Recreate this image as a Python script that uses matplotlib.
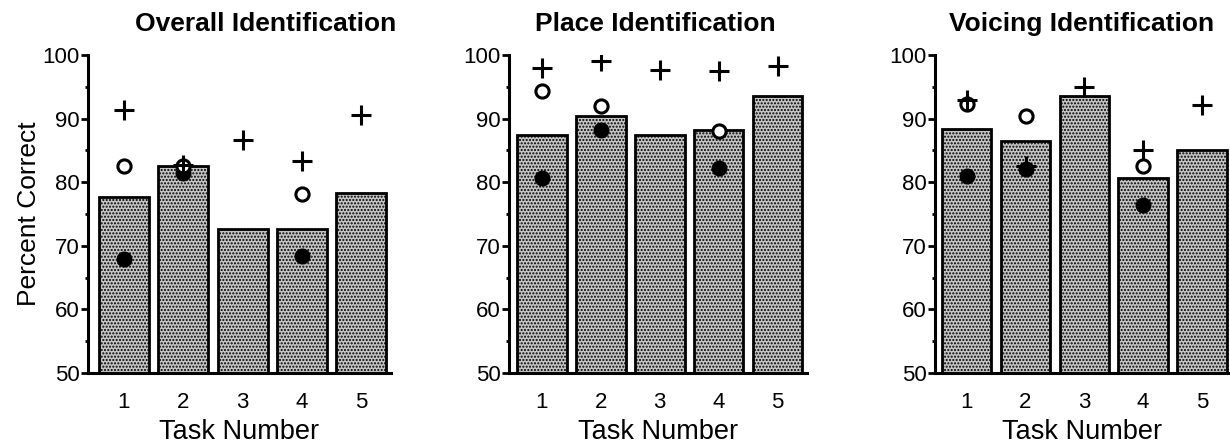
import matplotlib
matplotlib.use("Agg")
import matplotlib.pyplot as plt
from matplotlib.ticker import MultipleLocator

plt.rcParams['font.family'] = ['Liberation Sans', 'DejaVu Sans']
plt.rcParams['hatch.linewidth'] = 1.0
plt.rcParams['hatch.color'] = '#4a4a4a'

tasks = [1, 2, 3, 4, 5]
titles = ["Overall Identification", "Place Identification", "Voicing Identification"]

# bar values (percent correct) per panel
overall_bars = [77.7, 82.5, 72.7, 72.7, 78.3]
place_bars = [87.4, 90.4, 87.4, 88.2, 93.6]
voicing_bars = [88.3, 86.5, 93.6, 80.6, 85.0]

# plus markers
overall_plus = [91.4, 82.7, 86.6, 83.4, 90.5]
place_plus = [97.9, 99.0, 97.6, 97.5, 98.2]
voicing_plus = [93.0, 82.5, 95.0, 85.0, 92.2]

# open circle markers (tasks 1, 2, 4)
circle_tasks = [1, 2, 4]
overall_open = [82.6, 82.5, 78.2]
place_open = [94.3, 92.0, 88.1]
voicing_open = [92.3, 90.4, 82.5]

# filled circle markers (tasks 1, 2, 4)
overall_filled = [67.9, 81.5, 68.4]
place_filled = [80.6, 88.2, 82.2]
voicing_filled = [80.9, 82.0, 76.4]

bars = [overall_bars, place_bars, voicing_bars]
pluses = [overall_plus, place_plus, voicing_plus]
opens = [overall_open, place_open, voicing_open]
filleds = [overall_filled, place_filled, voicing_filled]

W, H = 1230, 445
fig = plt.figure(figsize=(W / 100, H / 100), dpi=100)

# axes pixel boxes (left, right), and xlims
boxes = [(88, 391, (0.394, 5.5), 0.587),
         (509, 807, (0.44, 5.5), 0.49),
         (935, 1229, (0.46, 5.46), 0.497)]
top_px, bot_px = 55, 373

for i, (l, r, xl, tx) in enumerate(boxes):
    ax = fig.add_axes([l / W, (H - bot_px) / H, (r - l) / W, (bot_px - top_px) / H])
    ax.bar(tasks, bars[i], width=0.84, bottom=0, facecolor='#c4c4c4',
           edgecolor='black', linewidth=2.0, hatch='.....', zorder=2)
    ax.plot(circle_tasks, filleds[i], 'o', color='black', markersize=10.5, zorder=3)
    ax.plot(circle_tasks, opens[i], 'o', markerfacecolor='white', markeredgecolor='black',
            markersize=9.5, markeredgewidth=2.2, zorder=4)
    ax.plot(tasks, pluses[i], '+', color='black', markersize=15, markeredgewidth=2.2, zorder=5)
    ax.set_ylim(50, 100)
    ax.set_xlim(*xl)
    ax.yaxis.set_major_locator(MultipleLocator(10))
    ax.yaxis.set_minor_locator(MultipleLocator(5))
    ax.set_xticks(tasks)
    ax.tick_params(axis='x', length=0, pad=14, labelsize=16)
    ax.tick_params(axis='y', which='major', direction='out', length=5, width=2, pad=1, labelsize=16)
    ax.tick_params(axis='y', which='minor', direction='out', length=2, width=2)
    for s in ['top', 'right']:
        ax.spines[s].set_visible(False)
    for s in ['left', 'bottom']:
        ax.spines[s].set_linewidth(2.2)
    ax.set_xlabel("Task Number", fontsize=19.5, labelpad=4)
    if i == 0:
        ax.set_ylabel("Percent Correct", fontsize=19, labelpad=1)
    ax.text(tx, 1.097, titles[i], transform=ax.transAxes, ha='center', va='center',
            fontsize=19, fontweight='bold')

fig.savefig("out.png", dpi=100)
